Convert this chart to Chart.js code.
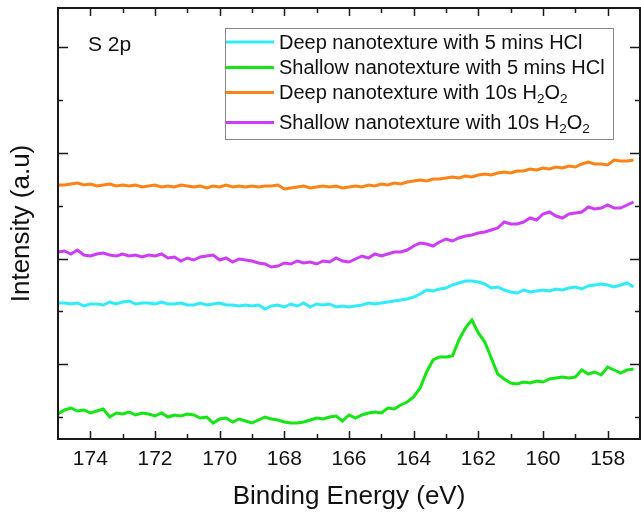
<!DOCTYPE html>
<html>
<head>
<meta charset="utf-8">
<script src="https://cdn.jsdelivr.net/npm/chart.js@4.4.1/dist/chart.umd.min.js"></script>
<style>
  html, body { margin: 0; padding: 0; background: #fff; overflow: hidden; }
  #wrap { width: 648px; height: 515px; position: relative; }
</style>
</head>
<body>
<div id="wrap"><canvas id="chart"></canvas></div>
<script>
// binding energy grid (eV), high to low
const energies = [
  175.0,174.8,174.6,174.4,174.2,174.0,173.8,173.6,173.4,173.2,
  173.0,172.8,172.6,172.4,172.2,172.0,171.8,171.6,171.4,171.2,
  171.0,170.8,170.6,170.4,170.2,170.0,169.8,169.6,169.4,169.2,
  169.0,168.8,168.6,168.4,168.2,168.0,167.8,167.6,167.4,167.2,
  167.0,166.8,166.6,166.4,166.2,166.0,165.8,165.6,165.4,165.2,
  165.0,164.8,164.6,164.4,164.2,164.0,163.8,163.6,163.4,163.2,
  163.0,162.8,162.6,162.4,162.2,162.0,161.8,161.6,161.4,161.2,
  161.0,160.8,160.6,160.4,160.2,160.0,159.8,159.6,159.4,159.2,
  159.0,158.8,158.6,158.4,158.2,158.0,157.8,157.6,157.4,157.2
];

// intensities (a.u., offset stacked)
const deepHCl = [
  114,114,113,114,111,113,113,112,115,113,
  115,116,113,114,114,113,115,113,113,114,
  112,112,114,112,113,114,112,112,111,112,
  111,112,108,111,112,110,113,111,114,110,
  113,112,113,110,111,110,111,112,114,113,
  114,115,116,117,118,120,123,127,126,128,
  129,132,134,136,136,135,133,129,130,127,
  125,124,127,125,126,127,126,128,127,129,
  130,128,131,132,133,132,130,132,134,130
];
const shallowHCl = [
  3,7,9,6,7,4,6,8,0,4,
  3,5,2,4,3,1,4,0,2,1,
  3,2,-1,0,-6,-2,-1,-5,-2,-4,
  -6,-3,0,-2,-3,-5,-6,-6,-5,-3,
  -1,-2,0,1,-4,2,-1,2,4,5,
  4,9,8,12,15,20,29,45,57,60,
  60,61,77,89,97,84,75,59,43,38,
  34,33,35,34,36,35,38,39,40,39,
  40,47,43,45,42,50,47,44,47,48
];
const deepH2O2 = [
  232,232,233,234,232,233,231,232,233,231,
  232,231,232,230,231,232,230,231,230,232,
  231,230,231,229,231,230,232,230,231,230,
  231,230,231,231,232,228,229,230,231,229,
  230,231,230,231,229,230,231,230,232,231,
  233,232,234,233,235,236,237,236,238,238,
  239,240,239,241,240,242,243,242,244,245,
  244,246,246,248,247,249,248,250,249,251,
  250,253,255,253,253,252,257,256,256,257
];
const shallowH2O2 = [
  165,166,163,167,162,161,163,164,162,161,
  163,161,162,160,162,161,163,159,160,156,
  159,157,160,161,162,157,159,155,158,157,
  156,154,153,150,151,154,153,156,154,155,
  153,156,155,159,156,155,158,161,159,163,
  161,163,165,165,167,171,174,173,171,175,
  178,176,179,181,182,184,185,187,189,195,
  193,193,195,199,197,203,205,201,199,203,
  204,205,210,208,209,212,209,209,212,215
];

const seriesLabels = [
  'Deep nanotexture with 5 mins HCl',
  'Shallow nanotexture with 5 mins HCl',
  'Deep nanotexture with 10s H_2O_2',
  'Shallow nanotexture with 10s H_2O_2'
];
const seriesColors = ['#30ECFA', '#14E614', '#FF8214', '#CF3CF5'];
const yMajorTicks = [52.8, 158.4, 264, 369.6];
const yMinorTicks = [0, 105.6, 211.2, 316.8];
const panelLabel = 'S 2p';

const FONT = '"Liberation Sans", Arial, sans-serif';

function xy(vals) {
  return vals.map((v, i) => ({x: energies[i], y: v}));
}

// text with _n subscripts
function drawRich(ctx, text, x, y, size) {
  const parts = text.split(/_(\d)/);
  parts.forEach((p, i) => {
    if (!p) return;
    const sub = i % 2 === 1;
    const s = sub ? size * 0.68 : size;
    ctx.font = s + 'px ' + FONT;
    ctx.fillText(p, x, y + (sub ? size * 0.3 : 0));
    x += ctx.measureText(p).width;
  });
}

const frameTicks = {
  id: 'frameTicks',
  afterDatasetsDraw(chart) {
    const {ctx, chartArea: a, scales: {x, y}} = chart;
    ctx.save();
    ctx.strokeStyle = '#1a1a1a';
    ctx.lineWidth = 1.5;
    ctx.beginPath();
    x.ticks.forEach(t => {
      if (t.value <= x.min || t.value >= x.max) return;
      const px = Math.round(x.getPixelForValue(t.value)) + 0.5;
      const len = t.value % 2 === 0 ? 8 : 5;
      ctx.moveTo(px, a.bottom); ctx.lineTo(px, a.bottom - len);
      ctx.moveTo(px, a.top); ctx.lineTo(px, a.top + len);
    });
    const yt = (vals, len) => vals.forEach(v => {
      const py = Math.round(y.getPixelForValue(v)) + 0.5;
      ctx.moveTo(a.left, py); ctx.lineTo(a.left + len, py);
      ctx.moveTo(a.right, py); ctx.lineTo(a.right - len, py);
    });
    yt(yMajorTicks, 10);
    yt(yMinorTicks, 5);
    ctx.stroke();
    ctx.lineWidth = 2;
    ctx.strokeRect(a.left, a.top, a.right - a.left, a.bottom - a.top);

    // panel label
    ctx.fillStyle = '#111';
    ctx.font = '21px ' + FONT;
    ctx.textBaseline = 'middle';
    ctx.fillText(panelLabel, a.left + 30, a.top + 37);

    // legend box
    const lx = 225.5, ly = 28.5, lw = 388, lh = 111;
    ctx.fillStyle = '#fff';
    ctx.fillRect(lx, ly, lw, lh);
    ctx.strokeStyle = '#888';
    ctx.lineWidth = 1;
    ctx.strokeRect(lx, ly, lw, lh);
    const rows = [42, 67.5, 92.5, 122.5];
    chart.data.datasets.forEach((ds, i) => {
      ctx.strokeStyle = ds.borderColor;
      ctx.lineWidth = 3;
      ctx.beginPath();
      ctx.moveTo(226, rows[i]); ctx.lineTo(274, rows[i]);
      ctx.stroke();
      ctx.fillStyle = '#111';
      ctx.textBaseline = 'middle';
      drawRich(ctx, seriesLabels[i], 279, rows[i] + 1, 20);
    });
    ctx.restore();
  }
};

new Chart(document.getElementById('chart'), {
  type: 'line',
  data: {
    datasets: [deepHCl, shallowHCl, deepH2O2, shallowH2O2].map((vals, i) => ({
      label: seriesLabels[i].replace(/_/g, ''),
      data: xy(vals),
      borderColor: seriesColors[i],
      backgroundColor: seriesColors[i],
      borderWidth: 3,
      pointRadius: 0,
      tension: 0,
      fill: false
    }))
  },
  options: {
    responsive: true,
    maintainAspectRatio: false,
    animation: false,
    layout: {padding: {left: 0, right: 4, top: 8, bottom: 0}},
    plugins: {legend: {display: false}, tooltip: {enabled: false}},
    scales: {
      x: {
        type: 'linear',
        reverse: true,
        min: 157,
        max: 175,
        afterFit: s => { s.height = 76; },
        grid: {display: false, drawTicks: false},
        border: {display: false},
        ticks: {
          stepSize: 1,
          autoSkip: false,
          maxRotation: 0,
          padding: 8,
          color: '#111',
          font: {family: FONT, size: 21},
          callback: v => (v % 2 === 0 ? v : '')
        },
        title: {
          display: true,
          text: 'Binding Energy (eV)',
          color: '#111',
          font: {family: FONT, size: 26},
          padding: {top: 0, bottom: 3}
        }
      },
      y: {
        min: -22,
        max: 409,
        afterFit: s => { s.width = 58; },
        grid: {display: false, drawTicks: false},
        border: {display: false},
        ticks: {display: false},
        title: {
          display: true,
          text: 'Intensity (a.u)',
          color: '#111',
          font: {family: FONT, size: 26},
          padding: {top: 6, bottom: 0}
        }
      }
    }
  },
  plugins: [frameTicks]
});
</script>
</body>
</html>
